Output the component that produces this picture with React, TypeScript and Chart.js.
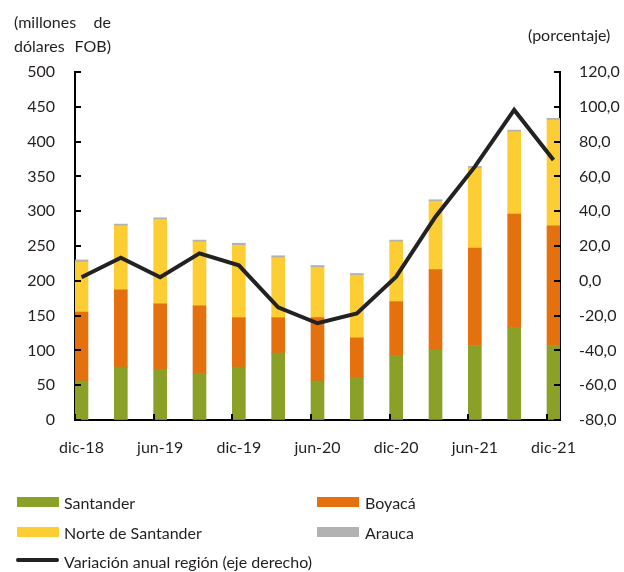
import React, { useEffect, useRef } from 'react';
import { Chart, registerables } from 'chart.js';

Chart.register(...registerables);

const categories = ['dic-18', 'mar-19', 'jun-19', 'sep-19', 'dic-19', 'mar-20', 'jun-20', 'sep-20', 'dic-20', 'mar-21', 'jun-21', 'sep-21', 'dic-21'];
const santander = [56, 76, 73, 67, 76, 96, 56, 61, 93, 101, 107, 133, 107];
const boyaca = [99, 111, 94, 97, 71, 51, 91, 57, 77, 115, 140, 163, 172];
const norteSantander = [72, 92, 121, 92, 104, 86, 72, 90, 86, 98, 115, 118, 152];
const arauca = [3, 2.5, 2.5, 2.5, 3, 3, 3, 2.5, 2.5, 2.5, 2.5, 2.5, 2.5];
const variacion = [2, 13.3, 2, 15.8, 8.9, -15.2, -24.4, -18.7, 2.4, 36.8, 65.6, 98.2, 69.4];
const xTickLabels = ['dic-18', 'jun-19', 'dic-19', 'jun-20', 'dic-20', 'jun-21', 'dic-21'];
const leftAxis = { min: 0, max: 500, step: 50 };
const rightAxis = { min: -80, max: 120, step: 20 };

const COLORS = {
  santander: '#8AA026',
  boyaca: '#E4700E',
  norte: '#FDCE34',
  arauca: '#B2B2B2',
  line: '#222222',
  text: '#231F20',
};
const FONT = 'Lato, "Open Sans", sans-serif';
const HALF = 0.165; // half bar width in category units

const toPoints = (arr: number[]) => arr.map((v, i) => ({ x: i, y: v }));

// inward tick marks drawn from the scales' own ticks
const tickMarks = {
  id: 'tickMarks',
  afterDatasetsDraw(chart: any) {
    const { ctx, chartArea } = chart;
    const { left, right, bottom } = chartArea;
    const L = 6;
    ctx.save();
    ctx.strokeStyle = '#000';
    ctx.lineWidth = 2;
    ctx.beginPath();
    const sy = chart.scales.y;
    for (const t of sy.ticks) {
      const p = Math.round(sy.getPixelForValue(t.value));
      ctx.moveTo(left, p);
      ctx.lineTo(left + L, p);
    }
    const sy1 = chart.scales.y1;
    for (const t of sy1.ticks) {
      const p = Math.round(sy1.getPixelForValue(t.value));
      ctx.moveTo(right - L, p);
      ctx.lineTo(right, p);
    }
    const sx = chart.scales.x;
    for (const t of sx.ticks) {
      const p = Math.round(sx.getPixelForValue(t.value));
      ctx.moveTo(p, bottom - L);
      ctx.lineTo(p, bottom);
    }
    ctx.stroke();
    ctx.restore();
  },
};

export default function App() {
  const ref = useRef<HTMLCanvasElement | null>(null);

  useEffect(() => {
    if (!ref.current) return;
    const barDs = (label: string, data: number[], color: string) => ({
      type: 'bar' as const,
      label,
      data: toPoints(data),
      backgroundColor: color,
      borderWidth: 0,
      barThickness: 13,
      yAxisID: 'y',
      order: 2,
    });
    const chart = new Chart(ref.current, {
      type: 'bar',
      data: {
        datasets: [
          barDs('Santander', santander, COLORS.santander),
          barDs('Boyacá', boyaca, COLORS.boyaca),
          barDs('Norte de Santander', norteSantander, COLORS.norte),
          barDs('Arauca', arauca, COLORS.arauca),
          {
            type: 'line' as const,
            label: 'Variación anual región (eje derecho)',
            data: toPoints(variacion),
            borderColor: COLORS.line,
            borderWidth: 4,
            pointRadius: 0,
            tension: 0,
            yAxisID: 'y1',
            order: 0,
          } as any,
        ],
      },
      plugins: [tickMarks],
      options: {
        responsive: false,
        animation: false,
        devicePixelRatio: 1,
        layout: { padding: { top: 72, left: 0, right: 0, bottom: 0 } },
        plugins: { legend: { display: false }, tooltip: { enabled: false } },
        scales: {
          x: {
            type: 'linear',
            stacked: true,
            offset: false,
            min: -HALF,
            max: categories.length - 1 + HALF,
            afterBuildTicks: (scale: any) => {
              scale.ticks = xTickLabels.map((l) => ({ value: categories.indexOf(l) - HALF, label: l }));
            },
            afterFit: (scale: any) => {
              scale.height = 152;
            },
            ticks: {
              autoSkip: false,
              maxRotation: 0,
              labelOffset: 6.5,
              padding: 18,
              color: COLORS.text,
              font: { family: FONT, size: 16 },
              callback: (_v: any, i: number) => xTickLabels[i],
            },
            grid: { display: true, drawOnChartArea: false, drawTicks: false },
            border: { display: true, color: '#000', width: 2 },
          },
          y: {
            position: 'left',
            stacked: true,
            min: leftAxis.min,
            max: leftAxis.max,
            afterFit: (scale: any) => {
              scale.width = 75;
            },
            ticks: {
              stepSize: leftAxis.step,
              padding: 20,
              color: COLORS.text,
              font: { family: FONT, size: 16 },
            },
            grid: { display: true, drawOnChartArea: false, drawTicks: false },
            border: { display: true, color: '#000', width: 2 },
          },
          y1: {
            position: 'right',
            stacked: false,
            min: rightAxis.min,
            max: rightAxis.max,
            afterFit: (scale: any) => {
              scale.width = 64;
            },
            ticks: {
              stepSize: rightAxis.step,
              padding: 19,
              color: COLORS.text,
              font: { family: FONT, size: 16 },
              callback: (v: any) => Number(v).toFixed(1).replace('.', ','),
            },
            grid: { display: true, drawOnChartArea: false, drawTicks: false },
            border: { display: true, color: '#000', width: 2 },
          },
        },
      } as any,
    });
    return () => chart.destroy();
  }, []);

  const textStyle: React.CSSProperties = {
    position: 'absolute',
    fontFamily: FONT,
    fontSize: 16,
    color: COLORS.text,
    whiteSpace: 'nowrap',
    lineHeight: '18px',
  };
  const box = (left: number, top: number, color: string): React.CSSProperties => ({
    position: 'absolute', left, top, width: 42, height: 10, background: color,
  });

  return (
    <div style={{ position: 'absolute', left: 0, top: 0, width: 624, height: 572, background: '#fff' }}>
      <canvas ref={ref} width={624} height={572} style={{ position: 'absolute', left: 0, top: 0, width: 624, height: 572 }} />
      <div style={{ ...textStyle, left: 14, top: 13, width: 97, textAlignLast: 'justify' as any }}>(millones de</div>
      <div style={{ ...textStyle, left: 14, top: 37, width: 97, textAlignLast: 'justify' as any }}>dólares FOB)</div>
      <div style={{ ...textStyle, left: 528, top: 26 }}>(porcentaje)</div>

      <div style={box(17, 497, COLORS.santander)} />
      <div style={{ ...textStyle, left: 64, top: 494 }}>Santander</div>
      <div style={box(317, 497, COLORS.boyaca)} />
      <div style={{ ...textStyle, left: 365, top: 494 }}>Boyacá</div>
      <div style={box(17, 527, COLORS.norte)} />
      <div style={{ ...textStyle, left: 64, top: 524 }}>Norte de Santander</div>
      <div style={box(317, 527, COLORS.arauca)} />
      <div style={{ ...textStyle, left: 365, top: 524 }}>Arauca</div>
      <div style={{ position: 'absolute', left: 16, top: 558, width: 43, height: 4, borderRadius: 2, background: COLORS.line }} />
      <div style={{ ...textStyle, left: 64, top: 553 }}>Variación anual región (eje derecho)</div>
    </div>
  );
}
